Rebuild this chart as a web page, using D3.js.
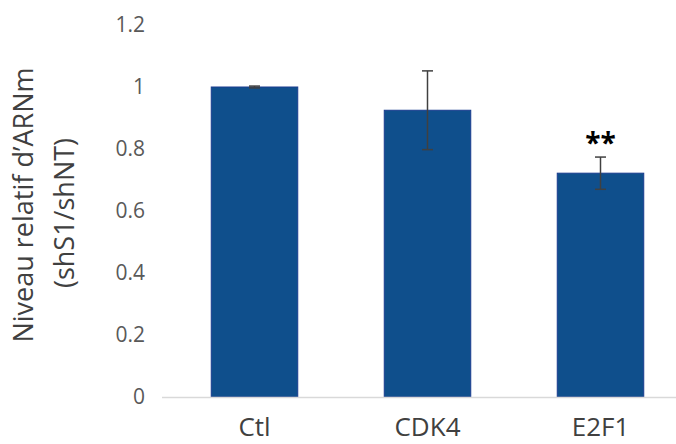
<!DOCTYPE html>
<html>
<head>
<meta charset="utf-8">
<script src="https://cdn.jsdelivr.net/npm/d3@7"></script>
<style>
  body { margin: 0; background: #fff; }
  svg { display: block; font-family: "Open Sans", sans-serif; }
</style>
</head>
<body>
<svg id="chart" width="676" height="444"></svg>
<script>
const categories = ['Ctl', 'CDK4', 'E2F1'];
const values = [1.0, 0.925, 0.722];
const errors = [0.003, 0.127, 0.052];
const marks = ['', '', '**'];
const yTicks = [0, 0.2, 0.4, 0.6, 0.8, 1, 1.2];

const width = 676;
const height = 444;
const plotLeft = 168, plotRight = 687; // plot area runs past the window edge, like the source
const plotTop = 25, plotBottom = 397;

const svg = d3.select('#chart');

const x = d3.scaleBand()
  .domain(categories)
  .range([plotLeft, plotRight])
  .paddingInner(0.5)
  .paddingOuter(0.25);

const y = d3.scaleLinear()
  .domain([0, 1.2])
  .range([plotBottom, plotTop]);

// y tick labels (no gridlines)
svg.append('g')
  .selectAll('text')
  .data(yTicks)
  .enter()
  .append('text')
  .attr('x', 145)
  .attr('y', d => y(d))
  .attr('dy', '0.35em')
  .attr('text-anchor', 'end')
  .attr('font-size', 21)
  .attr('fill', '#595959')
  .text(d => d === 0 || d === 1 ? d : d.toFixed(1));

// bars
svg.append('g')
  .selectAll('rect')
  .data(categories)
  .enter()
  .append('rect')
  .attr('x', d => x(d))
  .attr('y', (d, i) => y(values[i]))
  .attr('width', x.bandwidth())
  .attr('height', (d, i) => plotBottom - y(values[i]))
  .attr('fill', '#0f4f8c')
  .attr('stroke', '#1a3d8f')
  .attr('stroke-width', 1);

// baseline
svg.append('line')
  .attr('x1', 162)
  .attr('x2', width)
  .attr('y1', plotBottom + 0.5)
  .attr('y2', plotBottom + 0.5)
  .attr('stroke', '#d9d9d9')
  .attr('stroke-width', 1.5);

// error bars
const err = svg.append('g')
  .attr('stroke', '#404040')
  .attr('stroke-width', 1.5);

categories.forEach((c, i) => {
  const cx = x(c) + x.bandwidth() / 2;
  const hi = y(values[i] + errors[i]);
  const lo = y(values[i] - errors[i]);
  err.append('line').attr('x1', cx).attr('x2', cx).attr('y1', hi).attr('y2', lo);
  err.append('line').attr('x1', cx - 5.5).attr('x2', cx + 5.5).attr('y1', hi).attr('y2', hi);
  err.append('line').attr('x1', cx - 5.5).attr('x2', cx + 5.5).attr('y1', lo).attr('y2', lo);
});

// significance stars
svg.append('g')
  .selectAll('text')
  .data(categories)
  .enter()
  .append('text')
  .attr('x', d => x(d) + x.bandwidth() / 2)
  .attr('y', (d, i) => y(values[i] + errors[i]) - 4)
  .attr('text-anchor', 'middle')
  .attr('font-size', 28)
  .attr('font-weight', 'bold')
  .attr('fill', '#000')
  .text((d, i) => marks[i]);

// category labels
svg.append('g')
  .selectAll('text')
  .data(categories)
  .enter()
  .append('text')
  .attr('x', d => x(d) + x.bandwidth() / 2)
  .attr('y', 442)
  .attr('dy', '-0.22em')
  .attr('text-anchor', 'middle')
  .attr('font-size', 26)
  .attr('fill', '#404040')
  .text(d => d);

// y axis title, two lines rotated
const title = svg.append('text')
  .attr('transform', 'translate(24,205) rotate(-90)')
  .attr('text-anchor', 'middle')
  .attr('font-size', 27)
  .attr('fill', '#404040');
title.append('tspan').attr('x', 0).attr('dy', '0.35em').text('Niveau relatif d’ARNm');
title.append('tspan').attr('x', -8).attr('dy', '1.5em').text('(shS1/shNT)');
</script>
</body>
</html>
